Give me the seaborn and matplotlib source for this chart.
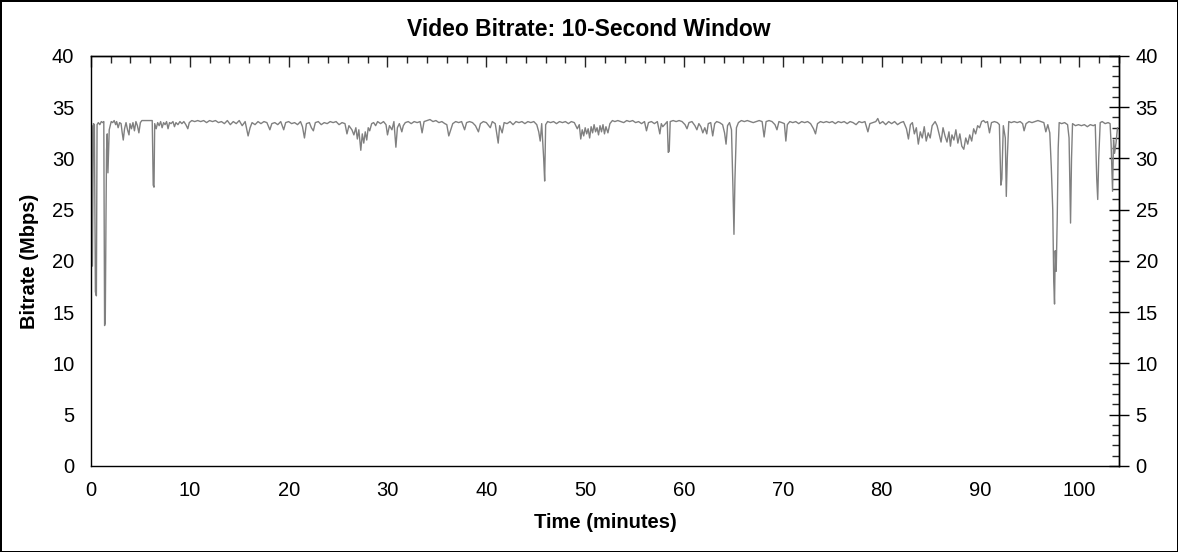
"""Video bitrate over a 10-second window, redrawn with seaborn"""

import pandas as pd
import seaborn as sns
import matplotlib.pyplot as plt
from matplotlib.ticker import MultipleLocator

# Time in minutes and bitrate in Mbps
time_min = [
    0.10, 0.15, 0.25, 0.35, 0.45, 0.55, 0.62, 0.75, 0.90, 1.05, 1.20, 1.30, 1.38, 1.45, 1.52,
    1.58, 1.65, 1.72, 1.78, 1.85, 1.95, 2.05, 2.20, 2.35, 2.50, 2.60, 2.75, 2.90, 3.05, 3.15,
    3.27, 3.40, 3.55, 3.70, 3.85, 3.95, 4.10, 4.25, 4.40, 4.55, 4.70, 4.85, 5.00, 5.15, 5.40,
    5.70, 6.00, 6.20, 6.30, 6.38, 6.45, 6.60, 6.75, 6.90, 7.05, 7.20, 7.35, 7.50, 7.65, 7.80,
    7.95, 8.10, 8.30, 8.45, 8.60, 8.80, 9.00, 9.20, 9.40, 9.60, 9.80, 9.95, 10.2, 10.5, 10.8,
    11.1, 11.4, 11.7, 12.0, 12.3, 12.6, 12.9, 13.2, 13.5, 13.8, 14.1, 14.4, 14.7, 15.0, 15.3,
    15.6, 15.9, 16.1, 16.3, 16.6, 16.9, 17.2, 17.5, 17.8, 18.1, 18.3, 18.6, 18.9, 19.2, 19.5,
    19.7, 20.0, 20.3, 20.6, 20.9, 21.2, 21.4, 21.6, 21.8, 22.1, 22.3, 22.5, 22.7, 23.0, 23.3,
    23.6, 23.9, 24.2, 24.5, 24.8, 25.1, 25.4, 25.7, 25.9, 26.1, 26.4, 26.6, 26.8, 26.95, 27.1,
    27.3, 27.45, 27.6, 27.75, 27.9, 28.05, 28.2, 28.4, 28.6, 28.8, 29.0, 29.3, 29.6, 29.85, 30.0,
    30.2, 30.45, 30.65, 30.85, 31.0, 31.2, 31.45, 31.6, 31.8, 32.1, 32.4, 32.7, 33.0, 33.3, 33.5,
    33.7, 34.0, 34.3, 34.6, 34.9, 35.2, 35.5, 35.8, 36.0, 36.2, 36.4, 36.6, 36.9, 37.2, 37.5,
    37.8, 38.0, 38.3, 38.6, 38.9, 39.2, 39.4, 39.7, 40.0, 40.4, 40.6, 40.9, 41.2, 41.35, 41.6,
    41.8, 42.1, 42.4, 42.7, 43.0, 43.3, 43.6, 43.9, 44.2, 44.5, 44.8, 45.1, 45.3, 45.45, 45.6,
    45.8, 45.9, 46.0, 46.2, 46.5, 46.8, 47.1, 47.4, 47.7, 48.0, 48.3, 48.6, 48.9, 49.2, 49.4,
    49.55, 49.7, 49.85, 50.0, 50.15, 50.3, 50.45, 50.6, 50.75, 50.9, 51.05, 51.2, 51.35, 51.5, 51.65,
    51.8, 51.95, 52.1, 52.3, 52.5, 52.75, 53.0, 53.3, 53.6, 53.9, 54.2, 54.5, 54.8, 55.1, 55.4,
    55.7, 56.0, 56.2, 56.4, 56.7, 57.0, 57.3, 57.55, 57.7, 57.85, 58.3, 58.4, 58.5, 58.6, 58.9,
    59.2, 59.5, 59.8, 60.1, 60.3, 60.5, 60.8, 61.1, 61.3, 61.5, 61.7, 61.9, 62.1, 62.3, 62.45,
    62.7, 62.9, 63.1, 63.3, 63.6, 63.9, 64.1, 64.25, 64.4, 64.6, 64.8, 64.95, 65.05, 65.15, 65.3,
    65.5, 65.8, 66.1, 66.4, 66.7, 67.0, 67.3, 67.6, 67.9, 68.1, 68.3, 68.6, 68.9, 69.2, 69.4,
    69.6, 69.9, 70.15, 70.3, 70.45, 70.7, 71.0, 71.3, 71.6, 71.9, 72.2, 72.5, 72.8, 73.1, 73.3,
    73.5, 73.8, 74.1, 74.4, 74.7, 75.0, 75.3, 75.6, 75.9, 76.2, 76.5, 76.8, 77.1, 77.4, 77.7,
    78.0, 78.3, 78.6, 78.8, 79.1, 79.4, 79.6, 79.8, 80.1, 80.4, 80.7, 81.0, 81.3, 81.6, 81.9,
    82.2, 82.5, 82.7, 82.9, 83.1, 83.3, 83.5, 83.7, 83.9, 84.1, 84.3, 84.5, 84.7, 84.9, 85.1,
    85.4, 85.6, 85.8, 86.0, 86.2, 86.4, 86.6, 86.8, 86.95, 87.1, 87.3, 87.5, 87.7, 87.9, 88.1,
    88.3, 88.5, 88.7, 88.9, 89.1, 89.3, 89.5, 89.7, 89.9, 90.1, 90.3, 90.5, 90.7, 90.9, 91.1,
    91.4, 91.7, 91.9, 92.05, 92.15, 92.3, 92.5, 92.6, 92.7, 92.85, 93.1, 93.4, 93.7, 94.0, 94.25,
    94.4, 94.6, 94.9, 95.2, 95.5, 95.8, 96.1, 96.4, 96.6, 96.8, 97.0, 97.15, 97.3, 97.4, 97.48,
    97.55, 97.65, 97.75, 97.85, 97.95, 98.2, 98.5, 98.8, 98.95, 99.1, 99.2, 99.3, 99.6, 99.9, 100.2,
    100.5, 100.8, 101.1, 101.4, 101.6, 101.75, 101.85, 101.95, 102.1, 102.3, 102.6, 102.9, 103.1, 103.2, 103.35,
    103.45, 103.55, 103.7, 103.85,
]
bitrate_mbps = [
    33.2, 19.5, 33.4, 33.3, 17.0, 16.6, 33.3, 33.5, 33.3, 33.6, 33.5, 33.6, 13.7, 14.0, 24.0,
    30.8, 32.4, 28.6, 30.5, 32.8, 33.2, 33.6, 33.5, 33.7, 33.3, 33.6, 33.0, 33.5, 33.4, 32.6,
    31.8, 32.9, 33.5, 32.8, 32.3, 33.4, 32.9, 33.5, 32.7, 33.6, 33.2, 32.5, 33.5, 33.7, 33.7,
    33.7, 33.7, 33.7, 27.4, 27.2, 33.4, 32.9, 33.5, 33.2, 33.6, 33.0, 33.5, 33.3, 33.6, 32.9,
    33.5, 33.4, 33.6, 33.1, 33.5, 33.3, 33.6, 33.4, 33.6, 33.3, 32.9, 33.5, 33.7, 33.6, 33.7,
    33.6, 33.7, 33.5, 33.7, 33.6, 33.7, 33.5, 33.6, 33.4, 33.7, 33.3, 33.6, 33.4, 33.7, 33.2,
    33.6, 32.2, 33.0, 33.5, 33.3, 33.6, 33.4, 33.6, 33.5, 32.8, 33.4, 33.5, 33.3, 33.6, 32.8,
    33.5, 33.6, 33.4, 33.5, 33.3, 33.6, 33.1, 32.0, 33.4, 33.5, 33.0, 32.7, 33.5, 33.6, 33.3,
    33.5, 33.4, 33.6, 33.5, 33.6, 33.3, 33.5, 33.4, 32.4, 33.2, 32.8, 32.3, 33.0, 31.9, 32.8,
    30.8, 32.4, 31.5, 32.6, 31.8, 33.0, 32.7, 33.4, 33.5, 33.2, 33.6, 33.4, 33.6, 33.3, 32.3,
    33.2, 32.8, 33.6, 31.1, 33.0, 33.4, 32.6, 33.2, 33.5, 33.6, 33.4, 33.6, 33.5, 33.6, 32.5,
    33.6, 33.7, 33.8, 33.6, 33.7, 33.5, 33.6, 33.4, 33.3, 32.2, 32.8, 33.4, 33.6, 33.5, 33.6,
    32.8, 33.5, 33.6, 33.5, 33.2, 32.6, 33.4, 33.6, 33.5, 33.0, 33.6, 33.4, 31.5, 33.2, 32.5,
    33.5, 33.4, 33.6, 33.3, 33.6, 33.5, 33.6, 33.4, 33.6, 33.5, 33.6, 33.3, 32.6, 31.7, 33.4,
    30.0, 27.8, 33.3, 33.6, 33.5, 33.6, 33.4, 33.6, 33.5, 33.6, 33.4, 33.6, 33.5, 32.9, 33.3,
    31.9, 32.8, 32.2, 33.0, 32.4, 32.9, 32.0, 33.1, 32.5, 33.3, 32.6, 33.0, 32.3, 33.2, 32.6,
    33.3, 32.4, 33.1, 32.5, 33.4, 33.7, 33.6, 33.7, 33.6, 33.5, 33.7, 33.6, 33.7, 33.5, 33.6,
    33.4, 33.6, 32.7, 33.5, 33.6, 33.4, 33.6, 32.4, 33.4, 33.1, 33.6, 30.6, 30.7, 33.6, 33.7,
    33.6, 33.7, 33.6, 33.3, 32.9, 33.5, 33.6, 33.2, 32.8, 33.4, 33.1, 32.5, 33.0, 32.4, 33.4,
    33.5, 32.2, 33.4, 33.6, 33.5, 33.3, 32.5, 31.4, 33.2, 33.5, 32.8, 27.0, 22.6, 28.0, 33.0,
    33.5, 33.7, 33.6, 33.7, 33.6, 33.5, 33.6, 33.7, 33.6, 32.1, 33.6, 33.7, 33.6, 33.3, 32.8,
    33.6, 33.5, 33.4, 31.7, 33.3, 33.6, 33.5, 33.6, 33.4, 33.6, 33.5, 33.6, 33.4, 32.9, 32.4,
    33.4, 33.6, 33.5, 33.6, 33.5, 33.6, 33.4, 33.6, 33.5, 33.6, 33.4, 33.6, 33.5, 33.3, 33.6,
    33.5, 33.6, 32.6, 33.4, 33.5, 33.6, 33.9, 33.4, 33.6, 33.3, 33.6, 33.4, 33.6, 33.3, 33.5,
    33.6, 32.9, 31.9, 33.3, 33.5, 32.4, 33.0, 31.4, 32.6, 32.0, 33.1, 31.7, 32.5, 32.0, 33.2,
    33.6, 33.2, 32.4, 31.6, 33.0, 32.2, 31.6, 32.6, 31.2, 32.3, 31.8, 32.8, 31.5, 32.4, 31.2,
    30.9, 32.0, 31.4, 32.3, 31.7, 32.9, 32.4, 33.2, 33.0, 33.6, 33.7, 33.5, 33.6, 32.5, 33.5,
    33.6, 33.5, 33.3, 27.4, 28.0, 33.2, 32.0, 26.3, 30.0, 33.6, 33.5, 33.6, 33.5, 33.6, 33.4,
    32.7, 33.4, 33.6, 33.5, 33.6, 33.7, 33.6, 33.5, 32.6, 33.3, 32.5, 29.2, 25.0, 18.0, 15.8,
    21.0, 19.0, 24.0, 31.0, 33.5, 33.4, 33.5, 33.3, 32.0, 23.7, 30.0, 33.4, 33.2, 33.3, 33.2,
    33.3, 33.1, 33.3, 33.2, 33.3, 28.0, 26.0, 30.0, 33.5, 33.6, 33.4, 33.5, 33.4, 31.5, 26.8,
    31.8, 30.5, 31.5, 33.0,
]

data = pd.DataFrame({'Time': time_min, 'Bitrate': bitrate_mbps})

sns.set_style('white')
plt.rcParams['font.family'] = ['Liberation Sans', 'DejaVu Sans']
plt.rcParams['text.color'] = 'black'
plt.rcParams['axes.labelcolor'] = 'black'

fig = plt.figure(figsize=(11.78, 5.52), dpi=100)
ax = fig.add_axes([0.0772, 0.1558, 0.8727, 0.7428])

sns.lineplot(data=data, x='Time', y='Bitrate', ax=ax, color='#808080', linewidth=1.0)

ax.set_xlim(0, 104)
ax.set_ylim(0, 40)
ax.xaxis.set_major_locator(MultipleLocator(10))
ax.xaxis.set_minor_locator(MultipleLocator(2))
ax.yaxis.set_major_locator(MultipleLocator(5))
ax.yaxis.set_minor_locator(MultipleLocator(1))

# Main axes: bottom and left ticks
ax.tick_params(axis='x', which='major', direction='inout', length=12, width=1,
               labelsize=14.5, pad=5, colors='black')
ax.tick_params(axis='x', which='minor', direction='out', length=5, width=1)
ax.tick_params(axis='y', which='major', direction='inout', length=16, width=1,
               labelsize=14.5, pad=4, colors='black')
ax.tick_params(axis='y', which='minor', direction='out', length=4, width=1)

# Top axis: ticks pointing in, no labels
top = ax.secondary_xaxis('top')
top.xaxis.set_major_locator(MultipleLocator(10))
top.xaxis.set_minor_locator(MultipleLocator(2))
top.tick_params(axis='x', which='major', direction='in', length=8, width=1, labeltop=False)
top.tick_params(axis='x', which='minor', direction='in', length=5, width=1)

# Right axis: labelled, minor ticks pointing in
right = ax.secondary_yaxis('right')
right.yaxis.set_major_locator(MultipleLocator(5))
right.yaxis.set_minor_locator(MultipleLocator(1))
right.tick_params(axis='y', which='major', direction='inout', length=14, width=1,
                  labelsize=14.5, pad=5, colors='black')
right.tick_params(axis='y', which='minor', direction='in', length=5, width=1)

for a in (ax, top, right):
    for spine in a.spines.values():
        spine.set_color('black')
        spine.set_linewidth(1)

ax.set_xlabel('Time (minutes)', fontsize=14.5, fontweight='bold', labelpad=9)
ax.set_ylabel('Bitrate (Mbps)', fontsize=14.5, fontweight='bold', labelpad=9)
fig.suptitle('Video Bitrate: 10-Second Window', x=0.5, y=0.968, fontsize=16.5,
             fontweight='bold', color='black')

fig.patch.set_facecolor('white')
fig.patch.set_edgecolor('black')
fig.patch.set_linewidth(2)

fig.savefig('out.png', dpi=100)
plt.close(fig)
